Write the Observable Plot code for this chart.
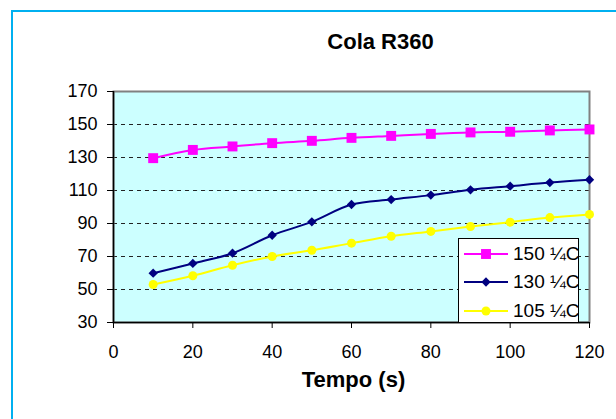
<!DOCTYPE html>
<html>
<head>
<meta charset="utf-8">
<script src="https://cdn.jsdelivr.net/npm/d3@7"></script>
<script src="https://cdn.jsdelivr.net/npm/@observablehq/plot@0.6"></script>
<style>
  html, body { margin: 0; padding: 0; background: #fff; overflow: hidden; }
  #wrap { position: relative; width: 616px; height: 419px; font-family: "Liberation Sans", Arial, sans-serif; }
  #border { position: absolute; left: 11px; top: 10px; width: 700px; height: 500px; border: 2px solid #00B0F0; box-sizing: border-box; pointer-events: none; }
  #legend { position: absolute; left: 458px; top: 238px; width: 121px; height: 85px; background: #fff; border: 1px solid #000; box-sizing: border-box; }
  .row { position: absolute; left: 0; height: 28px; width: 140px; }
  .row svg { position: absolute; left: 4px; top: 0; }
  .row span { position: absolute; left: 54px; top: 3px; font-size: 19px; line-height: 21px; color: #000; white-space: nowrap; }
</style>
</head>
<body>
<div id="wrap">
  <div id="chart"></div>
  <div id="legend"></div>
  <div id="border"></div>
</div>
<script>
const times = [10, 20, 30, 40, 50, 60, 70, 80, 90, 100, 110, 120];
const s150 = [129.6, 134.6, 136.7, 138.7, 140.1, 141.9, 143.1, 144.3, 145.2, 145.6, 146.4, 147.0];
const s130 = [59.9, 65.8, 72.0, 82.9, 91.0, 101.5, 104.5, 107.2, 110.4, 112.6, 114.8, 116.5];
const s105 = [53.0, 58.3, 64.7, 70.0, 73.8, 78.1, 82.3, 85.2, 88.2, 90.8, 93.6, 95.5];
const seriesNames = ["150 ¼C", "130 ¼C", "105 ¼C"];
const seriesColors = ["#FF00FF", "#000080", "#FFFF00"];
const seriesSymbols = ["square", "diamond2", "circle"];
const seriesR = [5.6, 4.2, 4.5];
const xTicks = [0, 20, 40, 60, 80, 100, 120];
const yTicks = [30, 50, 70, 90, 110, 130, 150, 170];
const titleText = "Cola R360";
const xLabel = "Tempo (s)";

const seriesValues = [s150, s130, s105];
const rows = [];
seriesValues.forEach((vals, i) => {
  vals.forEach((v, j) => rows.push({t: times[j], v, s: seriesNames[i]}));
});
const gridY = yTicks.filter(d => d > yTicks[0] && d < yTicks[yTicks.length - 1]);

const marks = [
  Plot.frame({fill: "#CCFFFF"}),
  Plot.ruleY(gridY, {stroke: "#222", strokeDasharray: "4,4", strokeWidth: 1}),
  Plot.frame({stroke: "#808080", strokeWidth: 2}),
  Plot.ruleX([xTicks[0]], {stroke: "#000", strokeWidth: 1.5}),
  Plot.ruleY([yTicks[0]], {stroke: "#000", strokeWidth: 1.5}),
  Plot.axisY({ticks: yTicks, tickSize: 6, tickPadding: 10, label: null, fontSize: 18, stroke: "#000"}),
  Plot.axisX({ticks: xTicks, tickSize: 6, tickPadding: 17, label: null, fontSize: 18, stroke: "#000"}),
];
seriesNames.forEach((name, i) => {
  const d = rows.filter(r => r.s === name);
  marks.push(Plot.line(d, {x: "t", y: "v", stroke: seriesColors[i], strokeWidth: 2, curve: "catmull-rom"}));
  marks.push(Plot.dot(d, {x: "t", y: "v", fill: seriesColors[i], stroke: "none", symbol: seriesSymbols[i], r: seriesR[i]}));
});
marks.push(Plot.text([titleText], {frameAnchor: "top", dx: 29, dy: -58, fontSize: 22, fontWeight: "bold", fill: "#000"}));
marks.push(Plot.text([xLabel], {frameAnchor: "bottom", dx: 2, dy: 64, fontSize: 22, fontWeight: "bold", fill: "#000"}));

const chart = Plot.plot({
  width: 616,
  height: 419,
  marginLeft: 113,
  marginRight: 27,
  marginTop: 91,
  marginBottom: 97,
  style: {fontFamily: "'Liberation Sans', Arial, sans-serif", color: "#000", background: "transparent", overflow: "visible"},
  x: {domain: [xTicks[0], xTicks[xTicks.length - 1]]},
  y: {domain: [yTicks[0], yTicks[yTicks.length - 1]]},
  marks
});
document.getElementById("chart").appendChild(chart);

// Legend
const legend = document.getElementById("legend");
const sym = {square: d3.symbolSquare, diamond2: d3.symbolDiamond2, circle: d3.symbolCircle};
seriesNames.forEach((name, i) => {
  const row = document.createElement("div");
  row.className = "row";
  row.style.top = (1 + i * 28.3) + "px";
  const svg = d3.create("svg").attr("width", 46).attr("height", 28);
  svg.append("line").attr("x1", 1).attr("x2", 45).attr("y1", 14).attr("y2", 14)
    .attr("stroke", seriesColors[i]).attr("stroke-width", 2);
  svg.append("path").attr("transform", "translate(23,14)")
    .attr("d", d3.symbol(sym[seriesSymbols[i]], Math.PI * seriesR[i] * seriesR[i])())
    .attr("fill", seriesColors[i]);
  row.appendChild(svg.node());
  const sp = document.createElement("span");
  sp.textContent = name;
  row.appendChild(sp);
  legend.appendChild(row);
});
</script>
</body>
</html>
